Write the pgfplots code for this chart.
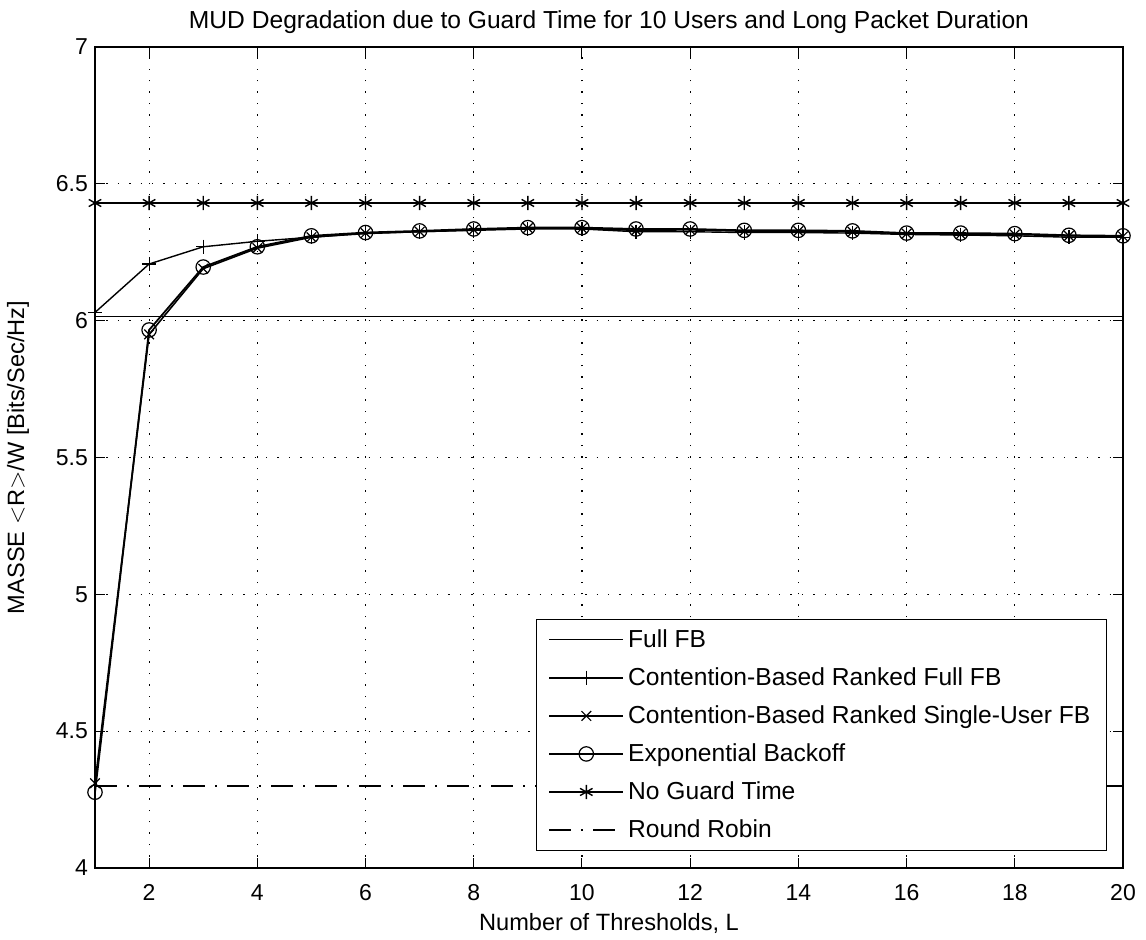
\documentclass[border=0pt]{standalone}
\usepackage{fontspec}
\setmainfont{Liberation Sans}
\usepackage{pgfplots}
\pgfplotsset{compat=1.18}

\begin{document}
\begin{tikzpicture}
\begin{axis}[
 scale only axis,
 width=514pt, height=410.5pt,
 xmin=1, xmax=20, ymin=4, ymax=7,
 xtick={2,4,...,20},
 ytick={4,4.5,5,5.5,6,6.5,7},
 yticklabels={4,4.5,5,5.5,6,6.5,7},
 tick align=inside, tick pos=both,
 major tick length=5pt,
 axis line style={line width=0.6pt},
 tick style={line width=0.5pt, black},
 grid=major,
 major grid style={black, line width=0.6pt, dash pattern=on 0.7pt off 5pt},
 /pgf/number format/assume math mode=true,
 tick label style={font=\fontsize{11.5}{12}\selectfont},
 xticklabel style={yshift=-4pt, text height=8.5pt, text depth=0pt},
 xlabel style={font=\fontsize{11.8}{12}\selectfont},
 every axis y label/.style={at={(rel axis cs:0,0.5)}, xshift=-38.5pt,
 rotate=90, anchor=center, font=\fontsize{11.8}{12}\selectfont},
 title style={font=\fontsize{12.3}{13}\selectfont, yshift=-3pt},
 title={MUD Degradation due to Guard Time for 10 Users and Long Packet Duration},
 xlabel={Number of Thresholds, L},
 ylabel={MASSE $<$R$>$/W [Bits/Sec/Hz]},
 legend cell align=left,
 legend style={at={(0.9844,0.0207)}, anchor=south east,
 draw=black, line width=0.6pt, font=\fontsize{12.3}{13}\selectfont,
 row sep=4.6pt, inner xsep=6pt, inner ysep=3pt},
 legend image code/.code={
 \draw[mark repeat=2,mark phase=2,#1]
 plot coordinates {(0cm,0cm) (0.65cm,0cm) (1.3cm,0cm)};},
]

% Full FB
\addplot[black, line width=0.6pt, no marks] coordinates {
 (1,6.015)(20,6.015)};
\addlegendentry{Full FB}

% Contention-Based Ranked Full FB
\addplot[black, line width=0.7pt, mark=+, mark size=3.6pt,
 mark options={solid, line width=0.6pt}] coordinates {
 (1,6.03)(2,6.207)(3,6.27)(4,6.29)(5,6.305)(6,6.318)(7,6.325)
 (8,6.33)(9,6.335)(10,6.335)(11,6.325)(12,6.325)(13,6.322)(14,6.322)
 (15,6.32)(16,6.315)(17,6.313)(18,6.31)(19,6.305)(20,6.305)};
\addlegendentry{Contention-Based Ranked Full FB}

% Contention-Based Ranked Single-User FB
\addplot[black, line width=0.8pt, mark=x, mark size=3.4pt,
 mark options={solid, line width=0.6pt}] coordinates {
 (1,4.31)(2,5.95)(3,6.19)(4,6.265)(5,6.305)(6,6.32)(7,6.325)
 (8,6.332)(9,6.338)(10,6.338)(11,6.33)(12,6.332)(13,6.327)(14,6.327)
 (15,6.325)(16,6.318)(17,6.316)(18,6.315)(19,6.31)(20,6.308)};
\addlegendentry{Contention-Based Ranked Single-User FB}

% Exponential Backoff
\addplot[black, line width=0.9pt, mark=o, mark size=3.6pt,
 mark options={solid, line width=0.6pt}] coordinates {
 (1,4.277)(2,5.966)(3,6.196)(4,6.27)(5,6.31)(6,6.322)(7,6.328)
 (8,6.335)(9,6.34)(10,6.34)(11,6.335)(12,6.335)(13,6.33)(14,6.33)
 (15,6.328)(16,6.32)(17,6.32)(18,6.318)(19,6.312)(20,6.31)};
\addlegendentry{Exponential Backoff}

% No Guard Time
\addplot[black, line width=0.6pt, mark=asterisk, mark size=3.6pt,
 mark options={solid, line width=0.7pt}] coordinates {
 (1,6.43)(2,6.43)(3,6.43)(4,6.43)(5,6.43)(6,6.43)(7,6.43)
 (8,6.43)(9,6.43)(10,6.43)(11,6.43)(12,6.43)(13,6.43)(14,6.43)
 (15,6.43)(16,6.43)(17,6.43)(18,6.43)(19,6.43)(20,6.43)};
\addlegendentry{No Guard Time}

% Round Robin
\addplot[black, line width=0.6pt, no marks,
 dash pattern=on 11pt off 5pt on 1pt off 5pt] coordinates {
 (1,4.30)(20,4.30)};
\addlegendentry{Round Robin}

\end{axis}
\pgfresetboundingbox
\path ([xshift=-47.5pt,yshift=-35.5pt]current axis.south west)
 rectangle ([xshift=11.5pt,yshift=23.5pt]current axis.north east);
\end{tikzpicture}
\end{document}
